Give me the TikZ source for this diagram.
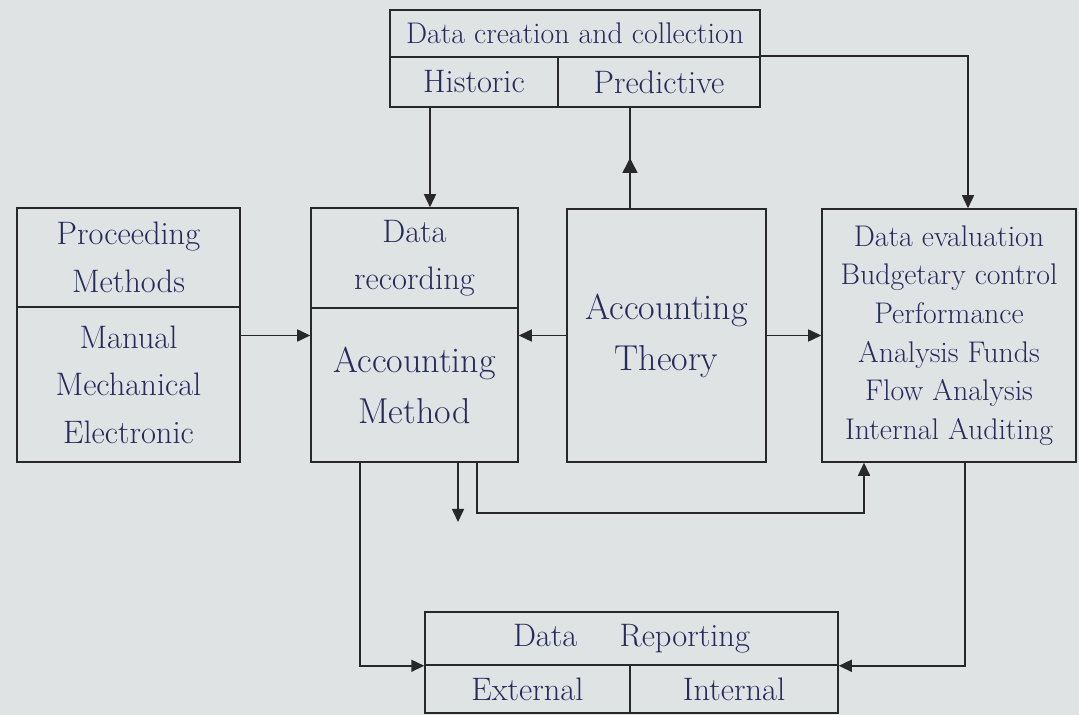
\documentclass[tikz,border=0pt]{standalone}
\usepackage{tikz}
\usetikzlibrary{arrows.meta,decorations.markings}

\definecolor{paper}{RGB}{223,227,227}
\definecolor{ink}{RGB}{38,42,92}
\definecolor{pencil}{RGB}{40,40,40}

\begin{document}
\begin{tikzpicture}[x=0.02cm,y=-0.02cm,
    box/.style={draw=pencil,line width=0.9pt,rectangle,inner sep=0pt,align=center,
                text=ink,font=\fontsize{18.5}{27}\selectfont},
    small/.style={font=\fontsize{17}{22}\selectfont},
    big/.style={font=\fontsize{20.5}{29}\selectfont},
    arr/.style={draw=pencil,line width=0.9pt,-{Triangle[length=2.6mm,width=2.4mm]}},
    midarr/.style={draw=pencil,line width=0.9pt,postaction={decorate},
                   decoration={markings,mark=at position 0.5 with {\arrow{Triangle[length=3mm,width=3mm]}}}}]
    \fill[paper] (0,0) rectangle (1079,715);
    \useasboundingbox (0,0) rectangle (1079,715);

    \node[box,small,minimum width=7.4cm,minimum height=0.94cm] (creation) at (575,33.5) {Data creation and collection};
    \node[box,minimum width=3.36cm,minimum height=1cm] (historic) at (474,82) {Historic};
    \node[box,minimum width=4.04cm,minimum height=1cm] (predictive) at (659,82) {Predictive};

    \node[box,minimum width=4.46cm,minimum height=1.98cm] (prochead) at (128.5,257.5) {Proceeding\\Methods};
    \node[box,minimum width=4.46cm,minimum height=3.1cm] (procbody) at (128.5,384.5) {Manual\\Mechanical\\Electronic};
    \node[box,minimum width=4.14cm,minimum height=2cm] (rechead) at (414.5,258) {Data\\recording};
    \node[box,big,minimum width=4.14cm,minimum height=3.08cm] (recbody) at (414.5,385) {Accounting\\Method};
    \node[box,big,minimum width=3.98cm,minimum height=5.06cm] (theory) at (666.5,335.5) {Accounting\\Theory};
    \node[box,small,minimum width=5.08cm,minimum height=5.06cm] (evaluation) at (949,335.5)
        {Data evaluation\\Budgetary control\\Performance\\Analysis Funds\\Flow Analysis\\Internal Auditing};

    \node[box,minimum width=8.26cm,minimum height=1.06cm] (report) at (631.5,638.5) {Data \quad Reporting};
    \node[box,minimum width=4.1cm,minimum height=0.96cm] (external) at (527.5,689) {External};
    \node[box,minimum width=4.16cm,minimum height=0.96cm] (internal) at (734,689) {Internal};

    \coordinate (loose) at (458,522);

    \draw[arr] ([xshift=-0.88cm]historic.south) -- ([xshift=-0.88cm]historic.south |- rechead.north);
    \draw[midarr] ([xshift=-0.73cm]theory.north) -- ([xshift=-0.73cm]theory.north |- predictive.south);
    \draw[arr] (predictive.north east) -| ([xshift=0.38cm]evaluation.north);

    \draw[arr] (procbody.east |- theory.west) -- (recbody.west |- theory.west);
    \draw[arr] (theory.west) -- (recbody.east |- theory.west);
    \draw[arr] (theory.east) -- (evaluation.west);

    \draw[arr] (recbody.south -| loose) -- (loose);
    \draw[arr] ([xshift=1.25cm]recbody.south) -- ++(0,50) -| ([xshift=-1.7cm]evaluation.south);
    \draw[arr] ([xshift=-1.09cm]recbody.south) |- (report.south west);
    \draw[arr] ([xshift=0.32cm]evaluation.south) |- (report.south east);
\end{tikzpicture}
\end{document}
